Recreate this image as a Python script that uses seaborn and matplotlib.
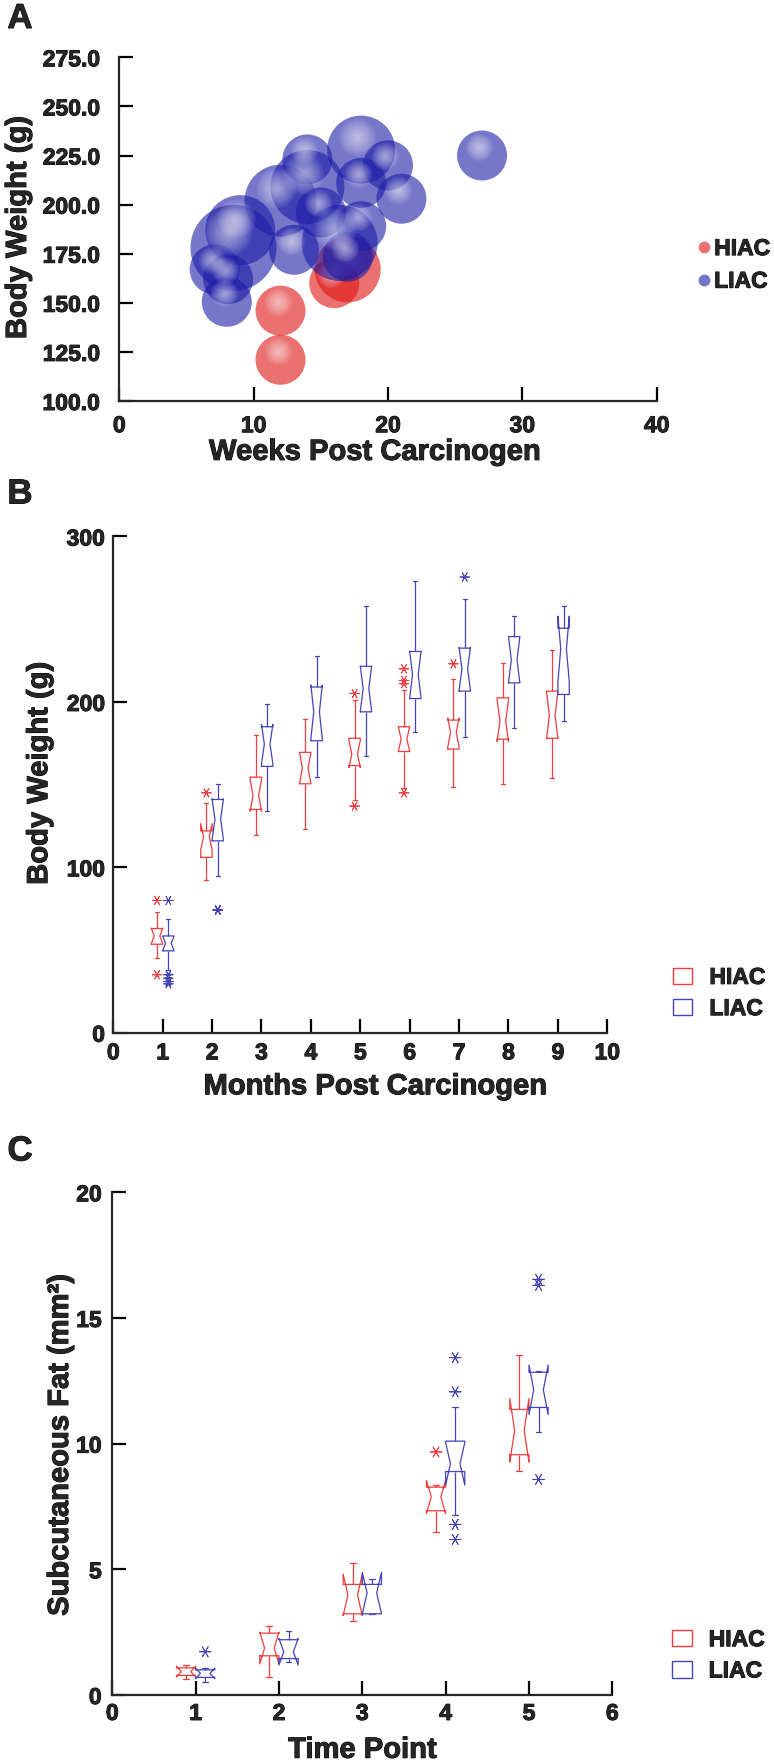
import numpy as np
import pandas as pd
import matplotlib
matplotlib.use("Agg")
import matplotlib.pyplot as plt
import matplotlib.transforms as mtransforms
import matplotlib.patheffects as pe
from matplotlib.lines import Line2D
from matplotlib.patches import Patch
import seaborn as sns

# ---------------- Panel A: body weight vs weeks (bubble size = relative magnitude)
hiac_weeks = [12, 12, 16, 17]
hiac_weight = [146, 121, 160, 167]
hiac_bubble = [1.0, 1.0, 1.0, 1.32]

liac_weeks = [27, 18, 20, 18, 21, 18, 15, 14, 14, 12, 13, 16.4, 17, 7.1, 8.1, 8, 8.5, 9]
liac_weight = [225, 228, 220, 211, 203, 189, 196, 223, 209, 202, 177, 180.5, 173.5,
               167, 162, 150.5, 178, 187]
liac_bubble = [1.0, 1.36, 1.0, 1.0, 1.0, 1.0, 1.0, 1.0, 1.48, 1.44, 1.0, 1.52, 1.0,
               1.0, 1.0, 1.0, 1.72, 1.4]

# ---------------- Panel B: body weight by month (five-number summaries)
months = [1, 2, 3, 4, 5, 6, 7, 8, 9]
b_hiac_lo = [45, 92.5, 119.5, 123, 140.5, 148, 148.5, 150.5, 154]
b_hiac_q1 = [53.5, 106, 135, 150.5, 161.5, 170, 171.5, 177.5, 178]
b_hiac_med = [58.5, 118.5, 143.5, 160, 168.5, 177.5, 181.5, 188.5, 192]
b_hiac_q3 = [63, 122, 154.5, 169.5, 178, 185, 189, 202.5, 206.5]
b_hiac_hi = [73, 139, 180, 189.5, 201, 207, 214, 223.5, 231.5]

b_liac_lo = [38, 95, 134, 154.5, 167, 182, 178.5, 184.5, 188.5]
b_liac_q1 = [49.5, 116, 161, 176.5, 194, 202, 206.5, 211.5, 204.5]
b_liac_med = [54, 129, 174.5, 194, 208, 216.5, 220, 225.5, 232]
b_liac_q3 = [58.5, 141, 185, 209, 221.5, 230.5, 232.5, 239.5, 244.5]
b_liac_hi = [68.5, 150.5, 199, 227.5, 258, 273, 262, 252, 258]

b_out_month = [1, 1, 2, 5, 5, 6, 6, 6, 6, 7,
               1, 1, 1, 1, 1, 2, 2, 7]
b_out_group = ["HIAC"] * 10 + ["LIAC"] * 8
b_out_value = [80, 35, 145, 205, 137, 220, 213, 211, 145, 223,
               80, 35, 33, 31, 29.5, 74.5, 74, 275.5]

# ---------------- Panel C: subcutaneous fat by time point
points = [1, 2, 3, 4, 5]
c_hiac_lo = [0.62, 0.70, 2.96, 6.47, 8.92]
c_hiac_q1 = [0.78, 1.56, 3.23, 7.33, 9.56]
c_hiac_med = [0.93, 1.87, 3.98, 7.88, 10.53]
c_hiac_q3 = [1.08, 2.46, 4.40, 8.27, 11.36]
c_hiac_hi = [1.20, 2.76, 5.26, 8.35, 13.54]

c_liac_lo = [0.50, 1.33, 3.23, 7.18, 10.45]
c_liac_q1 = [0.70, 1.45, 3.23, 8.89, 11.44]
c_liac_med = [0.86, 1.72, 4.06, 9.20, 12.14]
c_liac_q3 = [1.00, 2.20, 4.40, 10.10, 12.84]
c_liac_hi = [1.09, 2.53, 4.60, 11.47, 12.90]

c_out_point = [4, 1, 4, 4, 4, 4, 5, 5, 5]
c_out_group = ["HIAC"] + ["LIAC"] * 8
c_out_value = [9.67, 1.72, 13.42, 12.06, 6.79, 6.19, 16.54, 16.3, 8.58]

GROUPS = ["HIAC", "LIAC"]
BOX_COLORS = {"HIAC": "#f03c3c", "LIAC": "#4444b8"}
BUBBLE_COLORS = {"HIAC": "#de1212", "LIAC": "#1c1ca8"}
BOX_WIDTH = 0.46
DODGE = {"HIAC": -BOX_WIDTH / 4, "LIAC": BOX_WIDTH / 4}
DPI = 100
BASE_R = 25  # pixel radius of a unit bubble
HEAVY = [pe.withStroke(linewidth=0.7, foreground="black")]


def box_table(xs, stats, reps):
    # each five-number summary is entered `reps` times so the notch matches
    rows = []
    for group, cols in stats.items():
        for i, x in enumerate(xs):
            for col in cols:
                rows += [(x, group, col[i])] * reps
    return pd.DataFrame(rows, columns=["x", "group", "value"])


def bubble_area(vals):
    d_pt = 2 * BASE_R * np.asarray(vals, dtype=float) * 72 / DPI
    return d_pt ** 2


sns.set_style("ticks")
plt.rcParams["font.family"] = ["Liberation Sans", "DejaVu Sans"]
plt.rcParams["font.weight"] = "bold"
plt.rcParams["axes.labelweight"] = "bold"

fig = plt.figure(figsize=(7.74, 17.62), dpi=DPI)
W, H = 774, 1762


def make_axes(left, right, top, bottom):
    return fig.add_axes([left / W, 1 - bottom / H, (right - left) / W, (bottom - top) / H])


axA = make_axes(119.3, 656.7, 57.3, 401)
axB = make_axes(113.3, 607.3, 536.5, 1032.7)
axC = make_axes(112.3, 612.3, 1192.3, 1695)

# ---------------- A: bubbles with a soft specular highlight
glow = np.linspace(0.55, 0.05, 11)
for grp, wk, wt, bub in [("HIAC", hiac_weeks, hiac_weight, hiac_bubble),
                         ("LIAC", liac_weeks, liac_weight, liac_bubble)]:
    sns.scatterplot(x=wk, y=wt, s=bubble_area(bub), color=BUBBLE_COLORS[grp],
                    alpha=0.6, linewidth=0, legend=False, ax=axA)
    for x, y, v in zip(wk, wt, bub):
        shift = mtransforms.ScaledTranslation(-0.12 * BASE_R * v / DPI,
                                              0.36 * BASE_R * v / DPI,
                                              fig.dpi_scale_trans)
        for frac in glow:
            axA.scatter([x], [y], s=bubble_area([v * frac]), color="white",
                        alpha=0.065, linewidth=0, transform=axA.transData + shift)

axA.set_xlim(0, 40)
axA.set_ylim(100, 275)
axA.set_xticks([0, 10, 20, 30, 40])
axA.set_yticks(np.arange(100, 276, 25))
axA.yaxis.set_major_formatter(matplotlib.ticker.FormatStrFormatter("%.1f"))
axA.set_xlabel("Weeks Post Carcinogen", fontsize=21, va="center")
axA.set_ylabel("Body Weight (g)", fontsize=21, va="center")
axA.xaxis.set_label_coords(0.475, -0.148)
axA.yaxis.set_label_coords(-0.1885, 0.505)
axA.tick_params(axis="y", pad=14)
axA.tick_params(axis="x", pad=9.5)

handlesA = [Line2D([], [], marker="o", ls="none", markersize=8.5,
                   markerfacecolor=c, markeredgecolor="none")
            for c in ["#eb7070", "#7474c8"]]
axA.legend(handlesA, GROUPS, loc="center left", bbox_to_anchor=(1.075, 0.396),
           frameon=False, borderpad=0, borderaxespad=0, handlelength=0.6,
           handletextpad=0.15, labelspacing=0.42,
           prop={"size": 16.5, "weight": "bold"})

# ---------------- B and C: notched box plots
df_b = box_table(months, {"HIAC": [b_hiac_lo, b_hiac_q1, b_hiac_med, b_hiac_q3, b_hiac_hi],
                          "LIAC": [b_liac_lo, b_liac_q1, b_liac_med, b_liac_q3, b_liac_hi]}, 2)
df_c = box_table(points, {"HIAC": [c_hiac_lo, c_hiac_q1, c_hiac_med, c_hiac_q3, c_hiac_hi],
                          "LIAC": [c_liac_lo, c_liac_q1, c_liac_med, c_liac_q3, c_liac_hi]}, 1)
out_b = pd.DataFrame({"x": b_out_month, "group": b_out_group, "value": b_out_value})
out_c = pd.DataFrame({"x": c_out_point, "group": c_out_group, "value": c_out_value})

for ax, df, out, cap, msize, anchor in [(axB, df_b, out_b, 0.08, 48, (1.132, 0.080)),
                                        (axC, df_c, out_c, 0.07, 70, (1.119, 0.079))]:
    sns.boxplot(data=df, x="x", y="value", hue="group", hue_order=GROUPS,
                palette=BOX_COLORS, native_scale=True, fill=False, width=BOX_WIDTH,
                whis=np.inf, notch=True, showfliers=False, linewidth=0.9,
                medianprops={"linewidth": 0}, capwidths=cap, legend=False, ax=ax)
    out = out.assign(pos=out["x"] + out["group"].map(DODGE))
    sns.scatterplot(data=out, x="pos", y="value", hue="group", hue_order=GROUPS,
                    palette=BOX_COLORS, marker=(6, 2, 90), s=msize, linewidth=0.6,
                    legend=False, ax=ax)
    handles = [Patch(facecolor="none", edgecolor=BOX_COLORS[g], linewidth=1.0) for g in GROUPS]
    ax.legend(handles, GROUPS, loc="center left", bbox_to_anchor=anchor,
              frameon=False, borderpad=0, borderaxespad=0, handlelength=0.87,
              handleheight=0.74, handletextpad=0.74, labelspacing=0.36,
              prop={"size": 16.5, "weight": "bold"})

axB.set_xlim(0, 10)
axB.set_ylim(0, 300)
axB.set_xticks(range(0, 11))
axB.set_yticks([0, 100, 200, 300])
axB.set_xlabel("Months Post Carcinogen", fontsize=21, va="center")
axB.set_ylabel("Body Weight (g)", fontsize=21, va="center")
axB.xaxis.set_label_coords(0.53, -0.108)
axB.yaxis.set_label_coords(-0.150, 0.523)
axB.tick_params(axis="y", pad=6)
axB.tick_params(axis="x", pad=6.2)

axC.set_xlim(0, 6)
axC.set_ylim(0, 20)
axC.set_xticks(range(0, 7))
axC.set_yticks([0, 5, 10, 15, 20])
axC.set_xlabel("Time Point", fontsize=21, va="center")
axC.set_ylabel("Subcutaneous Fat (mm²)", fontsize=21, va="center")
axC.xaxis.set_label_coords(0.50, -0.109)
axC.yaxis.set_label_coords(-0.1046, 0.497)
axC.tick_params(axis="y", pad=7.7)
axC.tick_params(axis="x", pad=5)

for ax in (axA, axB, axC):
    ax.spines[["top", "right"]].set_visible(False)
    ax.spines[["left", "bottom"]].set_linewidth(1.6)
    ax.tick_params(direction="in", length=10, width=1.6, labelsize=16.5, color="black")
    texts = ax.get_xticklabels() + ax.get_yticklabels() + ax.get_legend().get_texts()
    texts += [ax.xaxis.label, ax.yaxis.label]
    for t in texts:
        t.set_fontweight("bold")
        t.set_path_effects(HEAVY)

for letter, (px, py) in {"A": (20, 18.5), "B": (20, 494), "C": (20, 1151)}.items():
    fig.text(px / W, 1 - py / H, letter, fontsize=25, fontweight="bold",
             ha="center", va="center", path_effects=HEAVY)

fig.savefig("out.png", dpi=DPI)
